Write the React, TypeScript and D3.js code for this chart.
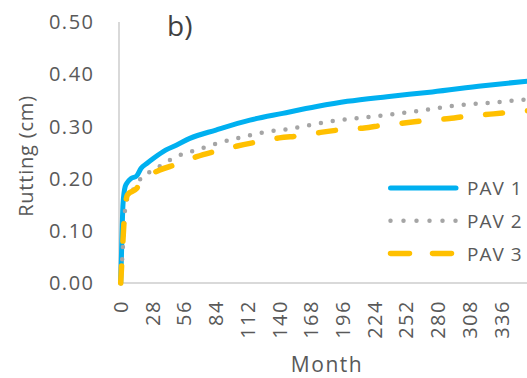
// RuttingChart.tsx
import React, { useEffect, useRef } from "react";
import * as d3 from "d3";

// PAV 1
const months1 = [0, 1, 2, 4, 6, 9, 14, 18, 23, 29, 40, 49, 61, 84, 114, 143, 173, 200, 235, 275, 320, 360];
const pav1 = [0, 0.08, 0.15, 0.185, 0.193, 0.2, 0.205, 0.22, 0.229, 0.239, 0.255, 0.264, 0.277, 0.293, 0.312, 0.325, 0.338, 0.348, 0.357, 0.366, 0.378, 0.387];

// PAV 2
const months2 = [0, 2, 4, 7, 12, 19, 28, 37, 46, 56, 67, 86, 106, 127, 148, 168, 189, 210, 254, 296, 330, 360];
const pav2 = [0, 0.07, 0.143, 0.168, 0.181, 0.204, 0.215, 0.227, 0.239, 0.248, 0.255, 0.268, 0.279, 0.289, 0.295, 0.303, 0.311, 0.316, 0.327, 0.34, 0.346, 0.352];

// PAV 3
const months3 = [0, 2, 3, 6, 14, 18, 34, 49, 67, 83, 102, 120, 140, 158, 178, 196, 215, 231, 252, 273, 290, 311, 329, 349, 360];
const pav3 = [0, 0.082, 0.12, 0.169, 0.181, 0.194, 0.216, 0.227, 0.242, 0.252, 0.262, 0.27, 0.278, 0.282, 0.289, 0.294, 0.297, 0.302, 0.307, 0.312, 0.315, 0.321, 0.324, 0.328, 0.33];

const seriesNames = ["PAV 1", "PAV 2", "PAV 3"];
const yTicks = [0, 0.1, 0.2, 0.3, 0.4, 0.5];
const xTicks = [0, 28, 56, 84, 112, 140, 168, 196, 224, 252, 280, 308, 336];

const RuttingChart: React.FC = () => {
  const ref = useRef<HTMLDivElement>(null);

  useEffect(() => {
    const width = 527,
      height = 378;
    const font = "'Open Sans', sans-serif";
    const textColor = "#595959";

    d3.select(ref.current).select("svg").remove();

    const svg = d3
      .select(ref.current)
      .append("svg")
      .attr("width", width)
      .attr("height", height)
      .style("display", "block")
      .style("background", "#fff");

    // scales
    const x = d3.scaleLinear().domain([-1.5, 360]).range([119, 528.6]);
    const y = d3.scaleLinear().domain([0, 0.5]).range([283, 22]);

    // axis lines
    svg
      .append("line")
      .attr("x1", 119)
      .attr("x2", 119)
      .attr("y1", y(0.5))
      .attr("y2", y(0))
      .attr("stroke", "#d9d9d9")
      .attr("stroke-width", 2);
    svg
      .append("line")
      .attr("x1", 119)
      .attr("x2", width)
      .attr("y1", y(0))
      .attr("y2", y(0))
      .attr("stroke", "#d9d9d9")
      .attr("stroke-width", 2);

    // y tick labels
    svg
      .selectAll(".ytick")
      .data(yTicks)
      .enter()
      .append("text")
      .attr("class", "ytick")
      .attr("x", 94.5)
      .attr("y", (d) => y(d))
      .attr("dy", "0.36em")
      .attr("text-anchor", "end")
      .style("font-family", font)
      .style("font-size", "20px")
      .style("letter-spacing", "1.5px")
      .attr("fill", textColor)
      .text((d) => d3.format(".2f")(d));

    // x tick labels (rotated)
    svg
      .selectAll(".xtick")
      .data(xTicks)
      .enter()
      .append("text")
      .attr("class", "xtick")
      .attr("transform", (d) => `translate(${x(d)},300) rotate(-90)`)
      .attr("dy", "0.36em")
      .attr("text-anchor", "end")
      .style("font-family", font)
      .style("font-size", "20px")
      .style("letter-spacing", "1.5px")
      .attr("fill", textColor)
      .text((d) => d);

    // axis titles
    svg
      .append("text")
      .attr("transform", "translate(33,156) rotate(-90)")
      .attr("text-anchor", "middle")
      .style("font-family", font)
      .style("font-size", "20px")
      .style("letter-spacing", "0.8px")
      .attr("fill", textColor)
      .text("Rutting (cm)");

    svg
      .append("text")
      .attr("x", 327)
      .attr("y", 372)
      .attr("text-anchor", "middle")
      .style("font-family", font)
      .style("font-size", "21px")
      .style("letter-spacing", "1.5px")
      .attr("fill", textColor)
      .text("Month");

    svg
      .append("text")
      .attr("x", 167)
      .attr("y", 36)
      .style("font-family", font)
      .style("font-size", "28px")
      .attr("fill", "#404040")
      .text("b)");

    // series
    const series = [
      { name: seriesNames[0], months: months1, values: pav1, color: "#00b0f0", dash: null, w: 5 },
      { name: seriesNames[1], months: months2, values: pav2, color: "#a5a5a5", dash: "0 12", w: 4.5 },
      { name: seriesNames[2], months: months3, values: pav3, color: "#ffc000", dash: "17 25", w: 5.5 },
    ];

    const line = d3
      .line<[number, number]>()
      .x((d) => x(d[0]))
      .y((d) => y(d[1]))
      .curve(d3.curveMonotoneX);

    series.forEach((s) => {
      const pts: [number, number][] = s.months.map((m, i) => [m, s.values[i]]);
      svg
        .append("path")
        .attr("d", line(pts)!)
        .attr("fill", "none")
        .attr("stroke", s.color)
        .attr("stroke-width", s.w)
        .attr("stroke-linecap", "round")
        .attr("stroke-linejoin", "round")
        .attr("stroke-dasharray", s.dash);
    });

    // legend
    const legend = svg
      .selectAll(".legend")
      .data(series)
      .enter()
      .append("g")
      .attr("class", "legend")
      .attr("transform", (_d, i) => `translate(0,${188 + i * 32.7})`);

    legend
      .append("line")
      .attr("x1", 390.5)
      .attr("x2", 456)
      .attr("y1", 0)
      .attr("y2", 0)
      .attr("stroke", (d) => d.color)
      .attr("stroke-width", (d) => d.w)
      .attr("stroke-linecap", "round")
      .attr("stroke-dasharray", (d) => (d.dash === "17 25" ? "19 23" : d.dash === "0 12" ? "0 13" : null));

    legend
      .append("text")
      .attr("x", 467)
      .attr("y", 0)
      .attr("dy", "0.38em")
      .style("font-family", font)
      .style("font-size", "19px")
      .style("letter-spacing", "1px")
      .attr("fill", textColor)
      .text((d) => d.name);
  }, []);

  return <div ref={ref} style={{ position: "absolute", left: 0, top: 0 }}></div>;
};

export default function App() {
  return <RuttingChart />;
}
